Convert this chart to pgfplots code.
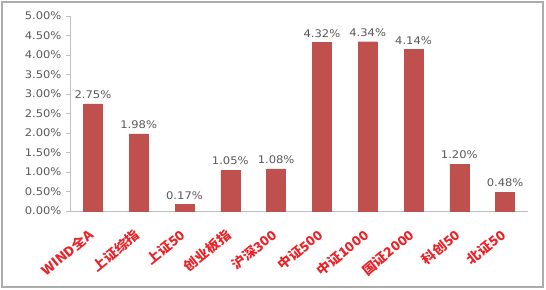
\documentclass[border=0pt]{standalone}
\usepackage{pgfplots}
\pgfplotsset{compat=1.18}
\usepackage{fontspec}
\setmainfont{DejaVu Sans}
\newfontfamily\numfont[FakeStretch=1.1]{DejaVu Sans}
\newfontfamily\cjk[FakeStretch=1.08]{Noto Sans CJK SC}
\definecolor{barred}{RGB}{192,80,77}
\definecolor{labred}{RGB}{235,35,40}
\definecolor{axgray}{RGB}{190,190,190}
\definecolor{txtgray}{RGB}{89,89,89}
\begin{document}
\begin{tikzpicture}
\useasboundingbox (-70bp,-79bp) rectangle (476bp,211bp);
\draw[draw=gray!65, line width=1.6bp] (-68bp,-76bp) rectangle (473bp,209bp);
\begin{axis}[
  at={(0,0)}, anchor=origin,
  scale only axis, width=458bp, height=195bp,
  xmin=0, xmax=10, ymin=0, ymax=5,
  axis x line*=bottom, axis y line*=left,
  axis line style={axgray, line width=0.8bp, -},
  clip=false,
  ybar, bar width=19bp,
  ytick={0,0.5,...,5},
  yticklabel={\pgfmathprintnumber[fixed,fixed zerofill,precision=2,assume math mode=true]{\tick}\%},
  yticklabel style={font=\numfont\fontsize{10.5bp}{12bp}\selectfont, text=txtgray, xshift=-1bp},
  ytick style={axgray, line width=0.8bp},
  major tick length=4bp,
  tick align=outside,
  xtick={0.5,1.5,...,9.5},
  xticklabels={WIND全A,上证综指,上证50,创业板指,沪深300,中证500,中证1000,国证2000,科创50,北证50},
  xticklabel style={font=\cjk\bfseries\fontsize{13bp}{14bp}\selectfont, text=labred, rotate=39, anchor=north east, inner sep=1bp, xshift=-11bp, yshift=-6bp},
  x tick style={draw=none},
  extra x ticks={0,1,...,10},
  extra x tick labels={},
  extra x tick style={tick style={axgray, line width=0.8bp}, major tick length=5bp},
  nodes near coords={\pgfmathprintnumber[fixed,fixed zerofill,precision=2,assume math mode=true]{\pgfplotspointmeta}\%},
  nodes near coords style={font=\numfont\fontsize{10.5bp}{12bp}\selectfont, text=txtgray, inner sep=5bp},
]
\addplot[fill=barred, draw=barred] coordinates {
(0.5,2.75) (1.5,1.98) (2.5,0.17) (3.5,1.05) (4.5,1.08)
(5.5,4.32) (6.5,4.34) (7.5,4.14) (8.5,1.20) (9.5,0.48)};
\end{axis}
\end{tikzpicture}
\end{document}
